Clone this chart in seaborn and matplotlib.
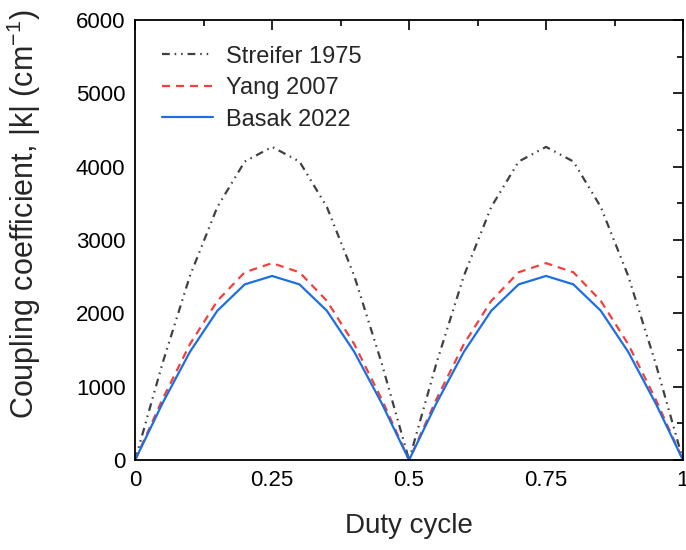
import numpy as np
import pandas as pd
import matplotlib
matplotlib.use("Agg")
import matplotlib.pyplot as plt
import seaborn as sns
from matplotlib.ticker import MultipleLocator

duty = [0.0, 0.05, 0.10, 0.15, 0.20, 0.25, 0.30, 0.35, 0.40, 0.45, 0.50,
        0.55, 0.60, 0.65, 0.70, 0.75, 0.80, 0.85, 0.90, 0.95, 1.0]
streifer = [0, 1320, 2510, 3450, 4070, 4270, 4070, 3450, 2510, 1320, 0,
            1320, 2510, 3450, 4070, 4270, 4070, 3450, 2510, 1320, 0]
yang = [0, 830, 1580, 2170, 2560, 2685, 2560, 2170, 1580, 830, 0,
        830, 1580, 2170, 2560, 2685, 2560, 2170, 1580, 830, 0]
basak = [0, 775, 1475, 2035, 2395, 2510, 2395, 2035, 1475, 775, 0,
         775, 1475, 2035, 2395, 2510, 2395, 2035, 1475, 775, 0]
labels = ["Streifer 1975", "Yang 2007", "Basak 2022"]
xticks = [0, 0.25, 0.5, 0.75, 1]
xticklabels = ["0", "0.25", "0.5", "0.75", "1"]

sns.set_style("white")
plt.rcParams['font.family'] = ['Liberation Sans', 'DejaVu Sans']
plt.rcParams['mathtext.fontset'] = 'custom'
plt.rcParams['mathtext.rm'] = 'Liberation Sans'
plt.rcParams['mathtext.it'] = 'Liberation Sans:italic'
plt.rcParams['mathtext.default'] = 'regular'

df = pd.DataFrame({"duty": duty * 3,
                   "k": streifer + yang + basak,
                   "src": [labels[0]] * len(duty) + [labels[1]] * len(duty) + [labels[2]] * len(duty)})

fig = plt.figure(figsize=(6.86, 5.5), dpi=100)
ax = fig.add_axes([0.197, 0.1636, 0.7986, 0.80])

styles = {labels[0]: dict(color="#404040", dashes=(3.5, 2.2, 0.7, 2.2, 0.7, 2.2)),
          labels[1]: dict(color="#f23f3f", dashes=(3.6, 2.7)),
          labels[2]: dict(color="#1c6fe3", dashes=None)}
for lab in labels:
    sub = df[df.src == lab]
    st = styles[lab]
    sns.lineplot(data=sub, x="duty", y="k", ax=ax, color=st["color"], lw=1.6, label=lab)
    line = ax.get_lines()[-1]
    if st["dashes"]:
        line.set_dashes(st["dashes"])

ax.set_xlim(0, 1)
ax.set_ylim(0, 6000)
ax.set_xticks(xticks)
ax.set_xticklabels(xticklabels)
ax.xaxis.set_minor_locator(MultipleLocator(0.125))
ax.yaxis.set_major_locator(MultipleLocator(1000))
ax.yaxis.set_minor_locator(MultipleLocator(500))
ax.tick_params(which="both", direction="in", top=True, right=True, width=1.2, labelsize=16, colors="black")
ax.tick_params(which="major", length=7, pad=7)
ax.tick_params(which="minor", length=4)
for s in ax.spines.values():
    s.set_visible(True)
    s.set_color("black")
    s.set_linewidth(1.3)

ax.set_xlabel("Duty cycle", fontsize=20, labelpad=16)
ax.set_ylabel("Coupling coefficient, |k| (cm$^{-1}$)", fontsize=22)
ax.yaxis.set_label_coords(-0.168, 0.559)

leg = ax.legend(loc="upper left", frameon=False, fontsize=17, handlelength=2.15,
                handletextpad=0.55, labelspacing=0.4, bbox_to_anchor=(0.01, 0.99))

fig.savefig("out.png", dpi=100)
